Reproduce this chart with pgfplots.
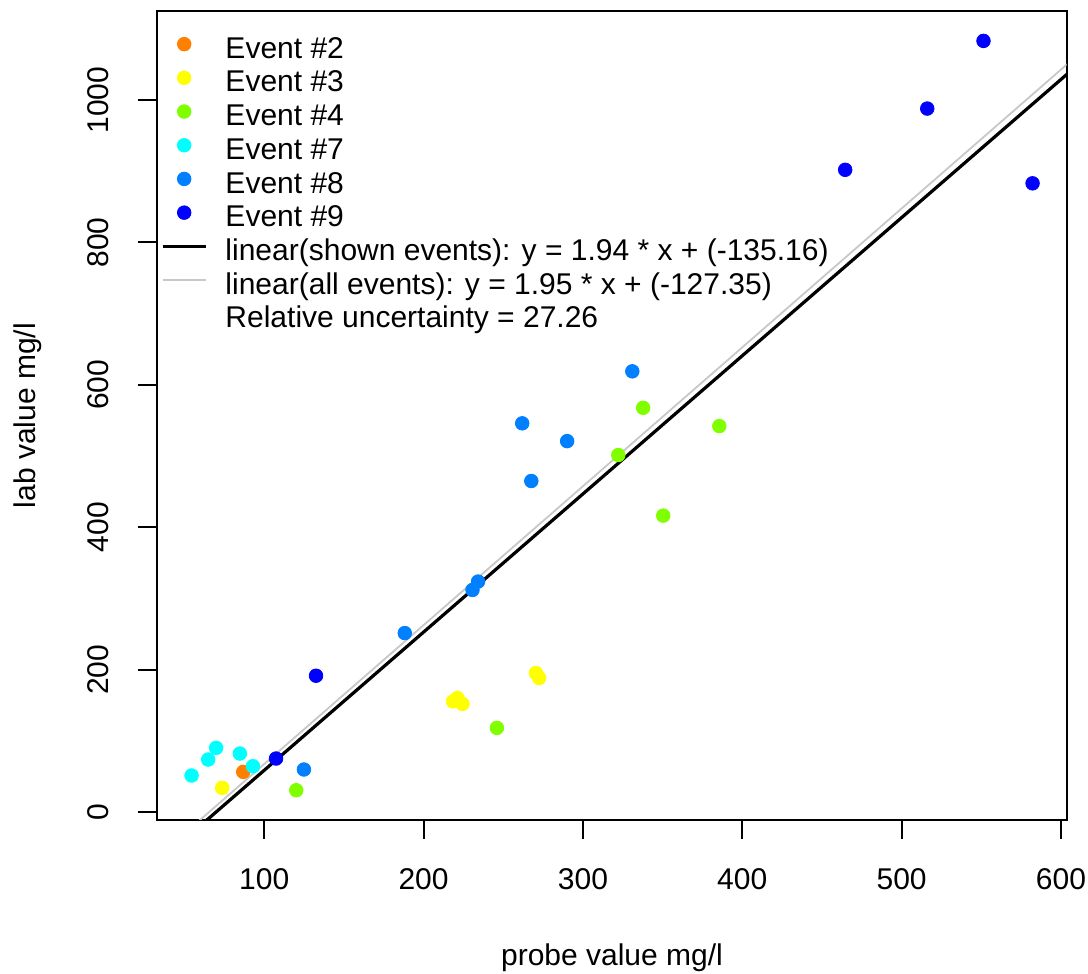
\documentclass[border=0pt]{standalone}
\usepackage{fontspec}
\setmainfont{Liberation Sans}
\usepackage{pgfplots}
\pgfplotsset{compat=1.18}
\definecolor{ev2}{HTML}{FF8000}
\definecolor{ev3}{HTML}{FFFF00}
\definecolor{ev4}{HTML}{80FF00}
\definecolor{ev7}{HTML}{00FFFF}
\definecolor{ev8}{HTML}{0080FF}
\definecolor{ev9}{HTML}{0000FF}
\definecolor{fitgray}{HTML}{C8C8C8}
\begin{document}
\fontsize{15pt}{17pt}\selectfont
\begin{tikzpicture}
\begin{axis}[
  name=ax,
  scale only axis,
  width=454.5pt, height=404.5pt,
  xmin=33, xmax=603.5, ymin=-11, ymax=1125,
  xtick={100,200,300,400,500,600},
  ytick={0,200,400,600,800,1000},
  xtick pos=left, ytick pos=left,
  tick align=outside,
  major tick length=9.5pt,
  axis line style={line width=1pt, black},
  every tick/.style={line width=1pt, black},
  /pgf/number format/assume math mode=true,
  /pgf/number format/1000 sep={},
  xticklabel shift=25.5pt,
  yticklabel shift=14.75pt,
  xticklabel style={anchor=base, inner sep=0pt},
  yticklabel style={rotate=90, anchor=base, inner sep=0pt},
  xlabel={probe value mg/l},
  ylabel={lab value mg/l},
  xlabel style={at={(axis description cs:0.5,-0.18047)}, anchor=base, inner sep=0pt},
  ylabel style={at={(axis description cs:-0.13366,0.5)}, rotate=0, anchor=base, inner sep=0pt},
  legend image code/.code={\path[draw=none, fill=none] (0pt,0pt) -- (21.5pt,0pt);
    \draw[overlay,mark repeat=2,mark phase=2,#1] plot coordinates {(0pt,4.5pt) (10.75pt,4.5pt) (21.5pt,4.5pt)};},
  legend cell align=left,
  legend style={at={(axis description cs:0,1)}, anchor=north west,
    xshift=2.6pt, yshift=-12.65pt,
    draw=none, fill=none, inner sep=0pt, outer sep=0pt,
    row sep=0pt, column sep=9.9pt,
    nodes={inner sep=0pt, text height=11pt, text depth=5.85pt}},
]
\addplot[only marks, mark=*, mark size=3.4pt, color=ev2] coordinates {(86.8,56.6)};
\addlegendentry{Event \#2}
\addplot[only marks, mark=*, mark size=3.4pt, color=ev3] coordinates {
 (73.6,34.2) (218.5,155.6) (221.2,160.4) (224.4,152.0) (270.5,195.4) (272.5,188.4)};
\addlegendentry{Event \#3}
\addplot[only marks, mark=*, mark size=3.4pt, color=ev4] coordinates {
 (120.1,30.8) (246.0,118.3) (322.2,501.5) (337.8,567.8) (350.4,416.4) (385.6,542.1)};
\addlegendentry{Event \#4}
\addplot[only marks, mark=*, mark size=3.4pt, color=ev7] coordinates {
 (54.4,51.5) (64.8,73.9) (69.8,90.3) (84.7,82.3) (92.9,64.5)};
\addlegendentry{Event \#7}
\addplot[only marks, mark=*, mark size=3.4pt, color=ev8] coordinates {
 (331.0,619) (261.9,546) (290.1,521) (267.6,465) (234.2,323.8) (230.7,312) (188.2,251.5) (124.9,59.9)};
\addlegendentry{Event \#8}
\addplot[only marks, mark=*, mark size=3.4pt, color=ev9] coordinates {
 (551.4,1083) (516.1,988) (464.6,902) (582.2,883) (132.5,191.6) (107.4,75.3)};
\addlegendentry{Event \#9}
\addlegendimage{black, line width=1.6pt, mark=none}
\addlegendentry{linear(shown events): y = 1.94 * x + (-135.16)}
\addlegendimage{fitgray, line width=0.8pt, mark=none}
\addlegendentry{linear(all events): y = 1.95 * x + (-127.35)}
\addlegendimage{empty legend}
\addlegendentry{Relative uncertainty = 27.26}
\addplot[fitgray, line width=0.9pt, mark=none, forget plot] coordinates {(30,-68.85) (610,1062.15)};
\addplot[black, line width=1.6pt, mark=none, forget plot] coordinates {(30,-76.96) (610,1048.24)};
\end{axis}
\pgfresetboundingbox
\path[use as bounding box] ([shift={(-78.75pt,-77pt)}]ax.south west) rectangle ([shift={(10.75pt,5.5pt)}]ax.north east);
\end{tikzpicture}
\end{document}
